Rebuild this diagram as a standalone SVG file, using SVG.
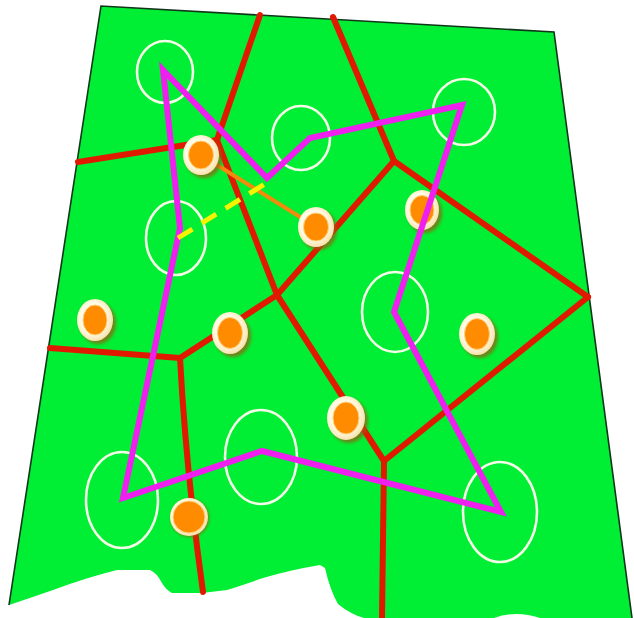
<svg xmlns="http://www.w3.org/2000/svg" width="634" height="618" viewBox="0 0 634 618">
  <defs>
    <filter id="blur" x="-50%" y="-50%" width="200%" height="200%">
      <feGaussianBlur stdDeviation="1.6"/>
    </filter>
    <radialGradient id="ring" cx="0.45" cy="0.45" r="0.6">
      <stop offset="0.6" stop-color="#fffbe6"/>
      <stop offset="1" stop-color="#f6dca0"/>
    </radialGradient>
    <style>
      .red { fill: none; stroke: #e01a00; stroke-width: 6; stroke-linecap: round; stroke-linejoin: round; }
      .site { fill: none; stroke: #f4fbe6; stroke-width: 2.6; }
      .tour { fill: none; stroke: #ef1fef; stroke-width: 6; stroke-linejoin: miter; }
      .link { fill: none; stroke: #f28a0c; stroke-width: 4; }
      .dash { fill: none; stroke: #f4f400; stroke-width: 5; stroke-dasharray: 17 11; }
      .shadow { fill: #9a5a10; opacity: 0.7; filter: url(#blur); }
      .outer { fill: url(#ring); }
      .inner { fill: #ff8c00; stroke: #ffd27a; stroke-width: 1; }
    </style>
  </defs>

  <rect width="634" height="618" fill="#ffffff"/>

  <g id="region">
    <path d="M101,6 L554,32 L632,618 L540,618 Q516,610 494,618 L364,618 Q350,614 338,604 Q330,590 325,568 L320,565 Q290,570 263,578 Q240,586 227,590 L202,593 L172,593 Q166,590 162,583 Q157,573 150,570 L117,570 Q85,578 53,590 Q30,598 9,605 Z" fill="#00ee33"/>
    <path d="M9,605 L101,6 L554,32 L632,618" fill="none" stroke="#10361a" stroke-width="1.6"/>
  </g>

  <g id="sites">
    <ellipse id="site1" class="site" cx="165" cy="72" rx="28" ry="31"/>
    <ellipse id="site2" class="site" cx="301" cy="138" rx="29" ry="32"/>
    <ellipse id="site3" class="site" cx="464" cy="112" rx="31" ry="33"/>
    <ellipse id="site4" class="site" cx="176" cy="238" rx="30" ry="37"/>
    <ellipse id="site5" class="site" cx="395" cy="312" rx="33" ry="40"/>
    <ellipse id="site6" class="site" cx="261" cy="457" rx="36" ry="47"/>
    <ellipse id="site7" class="site" cx="122" cy="500" rx="36" ry="48"/>
    <ellipse id="site8" class="site" cx="500" cy="512" rx="37" ry="50"/>
  </g>

  <g id="cells">
    <path class="red" d="M260,15 L217,140"/>
    <path class="red" d="M78,162 L217,140"/>
    <path class="red" d="M217,140 L277,295"/>
    <path class="red" d="M333,17 L394,161"/>
    <path class="red" d="M394,161 L277,295"/>
    <path class="red" d="M394,161 L588,297"/>
    <path class="red" d="M277,295 L180,358"/>
    <path class="red" d="M50,348 L180,358"/>
    <path class="red" d="M180,358 Q186,470 203,592"/>
    <path class="red" d="M277,295 L384,461"/>
    <path class="red" d="M384,461 L588,297"/>
    <path class="red" d="M384,461 L382,618"/>
  </g>

  <g id="connectors">
    <path id="link" class="link" d="M201,155 L316,227"/>
  </g>

  <g id="points">
    <g id="p1" transform="translate(201,155)"><ellipse class="shadow" cx="3" cy="3" rx="18" ry="20"/><ellipse class="outer" rx="18" ry="20"/><ellipse class="inner" rx="12.5" ry="14"/></g>
    <g id="p2" transform="translate(316,227)"><ellipse class="shadow" cx="3" cy="3" rx="18" ry="20"/><ellipse class="outer" rx="18" ry="20"/><ellipse class="inner" rx="12.5" ry="14"/></g>
    <g id="p3" transform="translate(422,210)"><ellipse class="shadow" cx="3" cy="3" rx="17" ry="20"/><ellipse class="outer" rx="17" ry="20"/><ellipse class="inner" rx="12" ry="14.5"/></g>
    <g id="p4" transform="translate(95,320)"><ellipse class="shadow" cx="3" cy="3" rx="18" ry="21"/><ellipse class="outer" rx="18" ry="21"/><ellipse class="inner" rx="12" ry="15"/></g>
    <g id="p5" transform="translate(230,333)"><ellipse class="shadow" cx="3" cy="3" rx="18" ry="21"/><ellipse class="outer" rx="18" ry="21"/><ellipse class="inner" rx="12.5" ry="15.5"/></g>
    <g id="p6" transform="translate(477,334)"><ellipse class="shadow" cx="3" cy="3" rx="18" ry="21"/><ellipse class="outer" rx="18" ry="21"/><ellipse class="inner" rx="12.5" ry="15.5"/></g>
    <g id="p7" transform="translate(346,418)"><ellipse class="shadow" cx="3" cy="3" rx="19" ry="22"/><ellipse class="outer" rx="19" ry="22"/><ellipse class="inner" rx="13" ry="16"/></g>
    <g id="p8" transform="translate(189,517)"><ellipse class="shadow" cx="1" cy="1" rx="19" ry="19"/><ellipse class="outer" rx="19" ry="19"/><ellipse class="inner" rx="16" ry="16"/></g>
  </g>

  <g id="tour">
    <path class="tour" d="M163,70 L267,178 L310,138 L462,105 L394,312 L501,512 L262,451 L123,498 L180,228 Z"/>
    <path id="dashed" class="dash" d="M178,238 L268,182"/>
  </g>
</svg>
